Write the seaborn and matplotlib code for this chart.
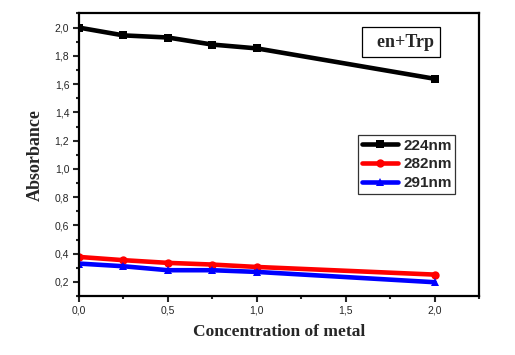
#!/usr/bin/env python3
"""Absorbance vs concentration of metal (en+Trp)."""

import numpy as np
import pandas as pd
import matplotlib
matplotlib.use("Agg")
import matplotlib.pyplot as plt
from matplotlib.ticker import MultipleLocator, FuncFormatter
import seaborn as sns

# ── data ────────────────────────────────────────────────────────────
conc = [0.0, 0.25, 0.5, 0.75, 1.0, 2.0]
abs_224 = [2.00, 1.945, 1.93, 1.88, 1.853, 1.638]
abs_282 = [0.377, 0.354, 0.335, 0.323, 0.306, 0.252]
abs_291 = [0.330, 0.311, 0.283, 0.283, 0.271, 0.198]
series_names = ["224nm", "282nm", "291nm"]
colors = ["#000000", "#ff0000", "#0000ff"]
markers = ["s", "o", "^"]

df = pd.DataFrame({
    "conc": conc * 3,
    "absorbance": abs_224 + abs_282 + abs_291,
    "series": np.repeat(series_names, len(conc)),
})

# ── figure ──────────────────────────────────────────────────────────
sns.set_style("white")
plt.rcParams["font.family"] = ["Liberation Sans", "DejaVu Sans"]

fig = plt.figure(figsize=(5.15, 3.55), dpi=100)
ax = fig.add_axes([0.1534, 0.166, 0.7767, 0.796])

sns.lineplot(
    data=df, x="conc", y="absorbance", hue="series", style="series",
    palette=colors, markers=markers, dashes=False, ax=ax,
    linewidth=3.3, markersize=6, markeredgewidth=0, legend=True,
)

ax.set_xlim(0, 2.25)
ax.set_ylim(0.1, 2.1)
ax.xaxis.set_major_locator(MultipleLocator(0.5))
ax.xaxis.set_minor_locator(MultipleLocator(0.25))
ax.yaxis.set_minor_locator(MultipleLocator(0.1))
ax.set_yticks(np.arange(0.2, 2.01, 0.2))
comma = FuncFormatter(lambda v, p: f"{v:.1f}".replace(".", ","))
ax.xaxis.set_major_formatter(comma)
ax.yaxis.set_major_formatter(comma)

ax.tick_params(which="major", direction="out", length=4, width=1.5,
               labelsize=7.5, bottom=True, left=True, top=False, right=False,
               pad=3)
ax.tick_params(which="minor", direction="out", length=2.5, width=1.5,
               bottom=True, left=True, top=False, right=False)
for s in ax.spines.values():
    s.set_linewidth(1.6)
    s.set_color("black")

ax.set_xlabel("Concentration of metal", family="Liberation Serif",
              fontsize=12.5, fontweight="bold", labelpad=6)
ax.set_ylabel("Absorbance", family="Liberation Serif",
              fontsize=13, fontweight="bold", labelpad=8)

leg = ax.legend(
    loc="upper left", bbox_to_anchor=(0.6975, 0.570), frameon=True,
    fancybox=False, edgecolor="black", handlelength=2.4, handletextpad=0.3,
    borderpad=0.25, labelspacing=0.3, borderaxespad=0,
    prop={"family": "Liberation Sans", "weight": "bold", "size": 11},
)
leg.get_frame().set_linewidth(0.9)

ax.text(0.805, 0.899, "  en+Trp", transform=ax.transAxes, ha="center",
        va="center", family="Liberation Serif", fontsize=13,
        fontweight="bold",
        bbox=dict(boxstyle="square,pad=0.35", facecolor="white",
                  edgecolor="black", linewidth=0.9))

fig.savefig("out.png", dpi=100)
plt.close(fig)
